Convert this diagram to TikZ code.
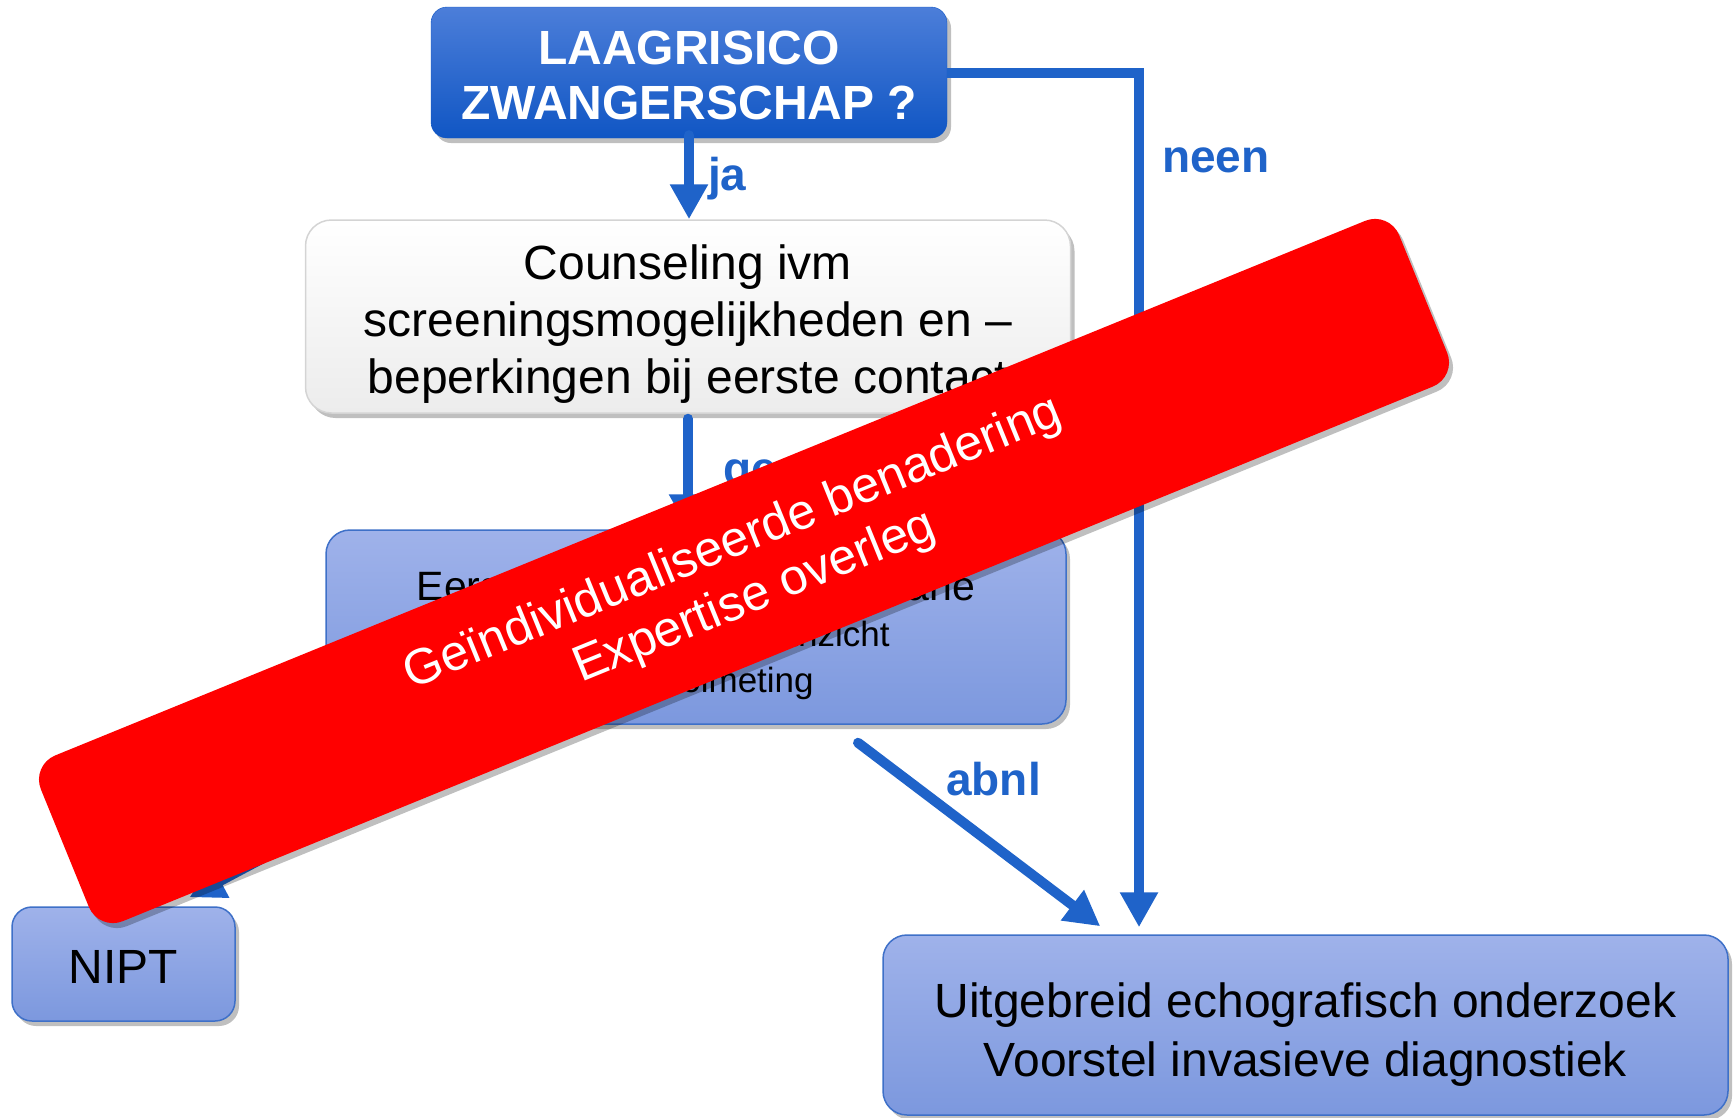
\documentclass[tikz,border=0pt]{standalone}
\usepackage{fontspec}
\setmainfont{Liberation Sans}
\usetikzlibrary{arrows.meta,shadows}

\definecolor{flowblue}{RGB}{31,99,201}
\definecolor{qtop}{RGB}{76,126,217}
\definecolor{qbot}{RGB}{16,86,196}
\definecolor{boxtop}{RGB}{159,178,234}
\definecolor{boxbot}{RGB}{124,152,222}
\definecolor{boxline}{RGB}{62,112,200}
\definecolor{cnsbot}{RGB}{236,236,236}
\definecolor{cnsline}{RGB}{212,212,212}
\definecolor{bannerred}{RGB}{255,0,0}

\begin{document}
\begin{tikzpicture}[
  x=1pt, y=-1pt,
  flow/.style={draw=flowblue, line width=10pt, line cap=round,
    -{Triangle[length=35pt,width=36pt]}},
  lbl/.style={text=flowblue, font=\fontsize{46}{50}\selectfont\bfseries,
    inner sep=0pt, anchor=base west},
  shade/.style={drop shadow={shadow xshift=4pt, shadow yshift=-5pt,
    opacity=.25, fill=black}},
  bluebox/.style={draw=boxline, line width=1.5pt, rounded corners=24pt,
    top color=boxtop, bottom color=boxbot, shade, align=center,
    inner sep=0pt, font=\fontsize{48}{59}\selectfont},
]
  \useasboundingbox (0,0) rectangle (1736,1117);

  % Boxes
  \node[draw=qbot, rounded corners=16pt, top color=qtop, bottom color=qbot,
    shade, minimum width=516pt, minimum height=131pt, inner sep=0pt,
    align=center, text=white, font=\fontsize{48}{55}\selectfont\bfseries]
    (top) at (689,72.5) {\rule{0pt}{40pt}LAAGRISICO\\ZWANGERSCHAP ?};

  \node[draw=cnsline, line width=1.5pt, rounded corners=26pt,
    top color=white, bottom color=cnsbot, shade,
    minimum width=765pt, minimum height=193pt, inner sep=0pt,
    align=center, font=\fontsize{48}{57}\selectfont]
    (counsel) at (688,316.5)
    {\rule{0pt}{49pt}Counseling ivm\\screeningsmogelijkheden en --\\beperkingen bij eerste contact};

  \node[bluebox, minimum width=740pt, minimum height=194pt,
    font=\fontsize{35}{46}\selectfont]
    (mid) at (696,627)
    {{\fontsize{41}{47}\selectfont\rule{0pt}{46pt}Eerste trimester echo mediane}\\
     anatomisch vooraanzicht\\nekplooimeting};

  \node[bluebox, rounded corners=20pt, minimum width=223pt, minimum height=114pt]
    (nipt) at (123.5,964) {\rule{0pt}{38pt}NIPT};

  \node[bluebox, minimum width=845pt, minimum height=180pt]
    (uitg) at (1305.5,1025)
    {\rule{0pt}{53pt}Uitgebreid echografisch onderzoek\\Voorstel invasieve diagnostiek};

  % Connectors
  \coordinate (neenx) at (1139,0);
  \draw[flow] ([yshift=3pt]top.south) -- (top.south |- counsel.north);
  \draw[flow] ([yshift=-5pt]counsel.south) -- (counsel.south |- mid.north);
  \draw[flow, line cap=butt, shorten >=7pt]
    (top.east) -- (top.east -| neenx) -- (neenx |- uitg.north);
  \draw[flow] ([shift={(162,18)}]mid.south) -- ([shift={(218,-8)}]uitg.north west);
  \draw[flow] ([shift={(-216,18)}]mid.south) -- ([shift={(66,-9)}]nipt.north);

  % Labels
  \node[lbl] (ja)   at (708,190)  {ja};
  \node[lbl] (neen) at (1162,172) {neen};
  \node[lbl] (geen) at (723,484)  {geen};
  \node[lbl] (abnl) at (946,795)  {abnl};

  % Banner on top
  \node[fill=bannerred, rounded corners=26pt, shade, rotate=22.2,
    minimum width=1467pt, minimum height=179pt, inner sep=0pt,
    align=center, text=white, font=\fontsize{50}{58}\selectfont]
    (expert) at (744,571)
    {Geïndividualiseerde benadering\\Expertise overleg};
\end{tikzpicture}
\end{document}
